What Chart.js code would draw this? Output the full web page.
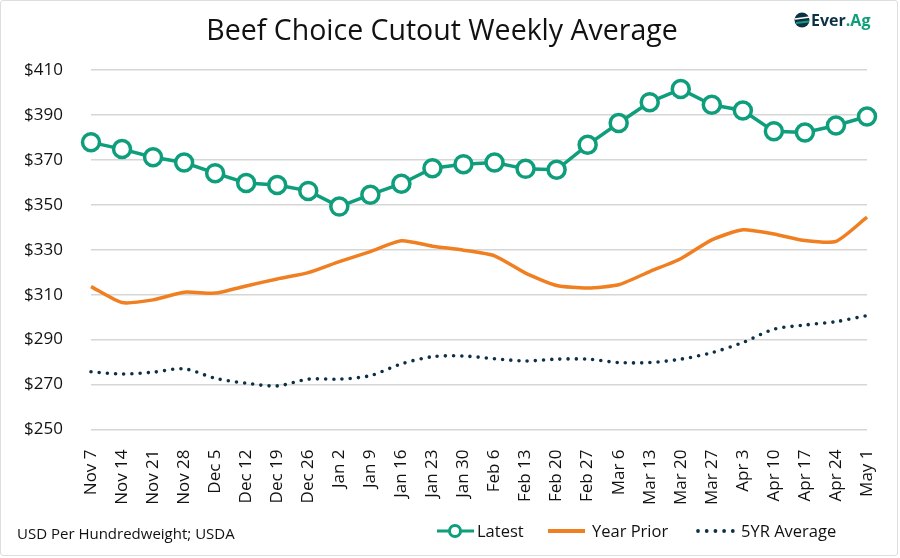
<!DOCTYPE html>
<html>
<head>
<meta charset="utf-8">
<script src="https://cdn.jsdelivr.net/npm/chart.js@4.4.0/dist/chart.umd.min.js"></script>
<style>
  html, body { margin: 0; padding: 0; background: #ffffff; }
  #wrap { position: relative; width: 900px; height: 558px; overflow: hidden; background: #fff; }
  #frame { position: absolute; left: 0; top: 0; width: 898px; height: 556px; box-sizing: border-box;
           border: 1.5px solid #dedede; border-radius: 3px; }
  #c { position: absolute; left: 0; top: 0; }
</style>
</head>
<body>
<div id="wrap">
  <div id="frame"></div>
  <canvas id="c" width="900" height="558"></canvas>
</div>
<script>
const chartTitle = 'Beef Choice Cutout Weekly Average';
const footnote = 'USD Per Hundredweight; USDA';
const categories = ['Nov 7','Nov 14','Nov 21','Nov 28','Dec 5','Dec 12','Dec 19','Dec 26','Jan 2','Jan 9','Jan 16','Jan 23','Jan 30','Feb 6','Feb 13','Feb 20','Feb 27','Mar 6','Mar 13','Mar 20','Mar 27','Apr 3','Apr 10','Apr 17','Apr 24','May 1'];
const latest = [377.8,374.8,371.2,368.8,364.1,359.7,358.8,356.2,349.2,354.5,359.4,366.3,368.1,368.8,366.0,365.6,376.7,386.4,395.7,401.5,394.5,392.0,382.7,382.2,385.3,389.3];
const yearPrior = [313.6,306.5,307.7,311.1,310.7,313.9,317.0,319.8,324.7,329.2,334.0,331.6,329.8,327.3,319.6,314.1,313.0,314.4,320.3,326.0,334.4,338.9,337.0,334.1,333.7,344.5];
const fiveYrAvg = [275.7,274.7,275.5,277.0,272.8,270.6,269.4,272.4,272.4,274.0,279.2,282.4,282.7,281.5,280.5,281.3,281.3,279.8,279.8,281.3,284.2,288.7,294.6,296.5,298.0,300.7];
const yTicks = [250,270,290,310,330,350,370,390,410];

const GREEN = '#0f9e7b';
const ORANGE = '#f07f22';
const NAVY = '#0c3147';
const FONT = "'Open Sans', 'DejaVu Sans', sans-serif";

const decorPlugin = {
  id: 'decor',
  afterDraw(chart) {
    const ctx = chart.ctx;
    ctx.save();
    // Title
    ctx.fillStyle = '#111';
    ctx.font = "28.5px " + FONT;
    ctx.textAlign = 'center';
    ctx.textBaseline = 'middle';
    ctx.fillText(chartTitle, 442, 32);

    // Logo
    ctx.beginPath();
    ctx.arc(802, 20, 7.5, 0, Math.PI * 2);
    ctx.fillStyle = NAVY;
    ctx.fill();
    ctx.strokeStyle = '#ffffff';
    ctx.lineWidth = 1.6;
    ctx.beginPath(); ctx.moveTo(795, 19); ctx.lineTo(810, 17); ctx.stroke();
    ctx.strokeStyle = GREEN;
    ctx.lineWidth = 2;
    ctx.beginPath(); ctx.moveTo(796, 23); ctx.lineTo(809, 21.5); ctx.stroke();
    ctx.textAlign = 'left';
    ctx.textBaseline = 'alphabetic';
    ctx.font = "bold 16px " + FONT;
    ctx.fillStyle = NAVY;
    ctx.fillText('Ever', 811, 26);
    const w = ctx.measureText('Ever').width;
    ctx.fillStyle = GREEN;
    ctx.fillText('.Ag', 811 + w, 26);

    // Footnote
    ctx.fillStyle = '#111';
    ctx.font = "15px " + FONT;
    ctx.textBaseline = 'middle';
    ctx.fillText(footnote, 17, 535);

    // Legend
    const ly = 531;
    const ds = chart.data.datasets;
    ctx.font = "16.5px " + FONT;
    // Latest
    ctx.strokeStyle = ds[0].borderColor; ctx.lineWidth = 3;
    ctx.beginPath(); ctx.moveTo(437, ly); ctx.lineTo(474, ly); ctx.stroke();
    ctx.beginPath(); ctx.arc(455, ly, 5.5, 0, Math.PI * 2);
    ctx.fillStyle = '#fff'; ctx.fill(); ctx.lineWidth = 3; ctx.stroke();
    ctx.fillStyle = '#111'; ctx.fillText(ds[0].label, 477, ly + 1);
    // Year Prior
    ctx.strokeStyle = ds[1].borderColor; ctx.lineWidth = 4;
    ctx.beginPath(); ctx.moveTo(548, ly); ctx.lineTo(585, ly); ctx.stroke();
    ctx.fillStyle = '#111'; ctx.fillText(ds[1].label, 592, ly + 1);
    // 5YR
    ctx.fillStyle = ds[2].borderColor;
    for (let i = 0; i < 5; i++) {
      ctx.beginPath(); ctx.arc(698 + i * 8.7, ly, 1.9, 0, Math.PI * 2); ctx.fill();
    }
    ctx.fillStyle = '#111'; ctx.fillText(ds[2].label, 741, ly + 1);
    ctx.restore();
  }
};

new Chart(document.getElementById('c'), {
  type: 'line',
  data: {
    labels: categories,
    datasets: [
      {
        label: 'Latest', data: latest, borderColor: GREEN, backgroundColor: '#ffffff',
        borderWidth: 3.5, pointRadius: 8.5, pointBorderWidth: 3.5, pointBackgroundColor: '#ffffff',
        pointBorderColor: GREEN, tension: 0, clip: false, order: 0
      },
      {
        label: 'Year Prior', data: yearPrior, borderColor: ORANGE, borderWidth: 3.5,
        pointRadius: 0, tension: 0.2, clip: false, order: 1
      },
      {
        label: '5YR Average', data: fiveYrAvg, borderColor: NAVY, borderWidth: 3.6,
        borderDash: [0, 8.2], borderCapStyle: 'round', pointRadius: 0, tension: 0.3, clip: false, order: 2
      }
    ]
  },
  options: {
    responsive: false,
    animation: false,
    devicePixelRatio: 1,
    layout: { padding: { left: 17, right: 33, top: 70, bottom: 43.5 } },
    plugins: {
      legend: { display: false },
      title: { display: false },
      tooltip: { enabled: false }
    },
    scales: {
      x: {
        type: 'category',
        offset: false,
        clip: false,
        grid: { display: false },
        border: { display: false },
        ticks: {
          minRotation: 90, maxRotation: 90, autoSkip: false, padding: 12,
          color: '#111', font: { family: FONT, size: 17 }
        },
        afterFit(scale) { scale.height = 85; }
      },
      y: {
        min: 250, max: 410,
        afterBuildTicks(scale) { scale.ticks = yTicks.map(v => ({ value: v })); },
        grid: { color: '#d6d6d6', lineWidth: 1.5, drawTicks: false },
        border: { display: false },
        ticks: {
          padding: 28, color: '#111', font: { family: FONT, size: 17 },
          callback: v => '$' + v
        },
        afterFit(scale) { scale.width = 74; }
      }
    }
  },
  plugins: [decorPlugin]
});
</script>
</body>
</html>
